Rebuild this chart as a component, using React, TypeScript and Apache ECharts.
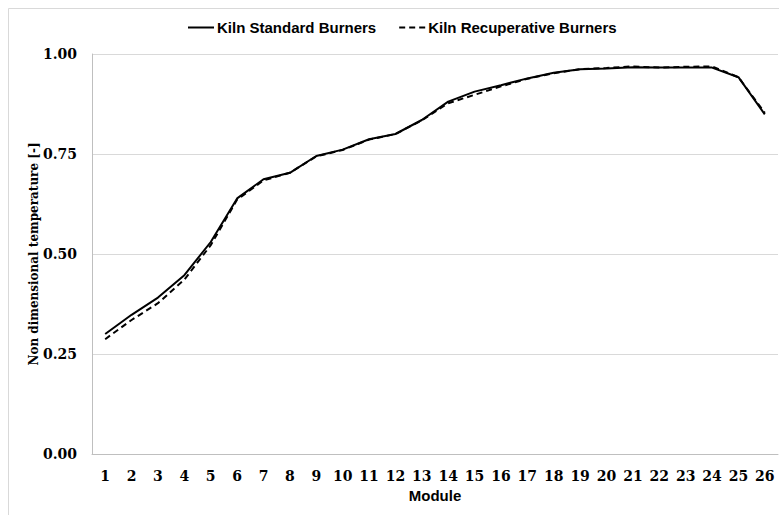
import React, { useEffect, useRef } from "react";
import * as echarts from "echarts";

const modules = ["1","2","3","4","5","6","7","8","9","10","11","12","13","14","15","16","17","18","19","20","21","22","23","24","25","26"];
const standardBurners = [0.300, 0.348, 0.391, 0.447, 0.530, 0.639, 0.687, 0.703, 0.745, 0.761, 0.787, 0.800, 0.835, 0.881, 0.906, 0.922, 0.939, 0.953, 0.962, 0.964, 0.967, 0.966, 0.966, 0.966, 0.942, 0.849];
const recuperativeBurners = [0.287, 0.335, 0.377, 0.436, 0.522, 0.636, 0.684, 0.703, 0.744, 0.760, 0.786, 0.800, 0.834, 0.877, 0.898, 0.919, 0.938, 0.952, 0.962, 0.965, 0.969, 0.966, 0.968, 0.969, 0.942, 0.853];
const seriesNames = ["Kiln Standard Burners", "Kiln Recuperative Burners"];

const serif = "'DejaVu Serif', serif";
const sans = "'Liberation Sans', Arial, sans-serif";

export default function App() {
  const ref = useRef<HTMLDivElement>(null);
  useEffect(() => {
    if (!ref.current) return;
    const chart = echarts.init(ref.current, null, { renderer: "svg" });
    chart.setOption({
      animation: false,
      backgroundColor: "#ffffff",
      graphic: [
        {
          type: "rect",
          shape: { x: 8.5, y: 8.5, width: 800, height: 520 },
          style: { fill: "none", stroke: "#d9d9d9", lineWidth: 1 },
          silent: true,
        },
      ],
      legend: {
        left: 187,
        top: 20,
        padding: 0,
        itemWidth: 26,
        itemHeight: 14,
        itemGap: 22,
        data: seriesNames,
        itemStyle: { opacity: 0 },
        textStyle: { fontFamily: sans, fontWeight: "bold", fontSize: 15, color: "#000", padding: [0, 0, 0, -2] },
      },
      grid: { left: 92, right: 1, top: 54, bottom: 61, containLabel: false },
      xAxis: {
        type: "category",
        data: modules,
        boundaryGap: true,
        name: "Module",
        nameLocation: "middle",
        nameGap: 33,
        nameTextStyle: { fontFamily: sans, fontWeight: "bold", fontSize: 15, color: "#000" },
        axisLine: { lineStyle: { color: "#bfbfbf", width: 1 } },
        axisTick: { show: false },
        axisLabel: { fontFamily: serif, fontWeight: "bold", fontSize: 14, color: "#000", margin: 15, interval: 0 },
        splitLine: { show: false },
      },
      yAxis: {
        type: "value",
        min: 0,
        max: 1,
        interval: 0.25,
        name: "Non dimensional temperature [-]",
        nameLocation: "middle",
        nameGap: 52,
        nameMoveOverlap: false,
        nameTextStyle: { fontFamily: serif, fontWeight: "bold", fontSize: 12, color: "#000" },
        axisLine: { show: true, lineStyle: { color: "#bfbfbf", width: 1 } },
        axisTick: { show: false },
        axisLabel: {
          fontFamily: serif,
          fontWeight: "bold",
          fontSize: 14,
          color: "#000",
          margin: 15,
          formatter: (v: number) => v.toFixed(2),
        },
        splitLine: { lineStyle: { color: "#d9d9d9", width: 1 } },
      },
      series: [
        {
          name: seriesNames[0],
          type: "line",
          data: standardBurners,
          symbol: "none",
          lineStyle: { color: "#000", width: 2, type: "solid" },
          itemStyle: { color: "#000" },
          z: 3,
        },
        {
          name: seriesNames[1],
          type: "line",
          data: recuperativeBurners,
          symbol: "none",
          lineStyle: { color: "#000", width: 2, type: [6, 4] },
          itemStyle: { color: "#000" },
          z: 2,
        },
      ],
    });
    return () => chart.dispose();
  }, []);
  return <div ref={ref} style={{ position: "fixed", left: 0, top: 0, width: 779, height: 515 }} />;
}
